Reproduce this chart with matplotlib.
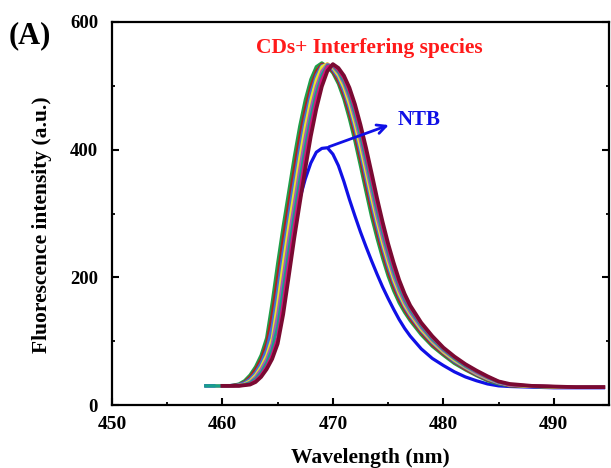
import numpy as np
import matplotlib
matplotlib.use("Agg")
import matplotlib.pyplot as plt
from matplotlib.ticker import MultipleLocator

nan = np.nan

wavelength = [458.5, 459, 459.5, 460, 460.5, 461, 461.5, 462, 462.5, 463, 463.5, 464, 464.5,
              465, 465.5, 466, 466.5, 467, 467.5, 468, 468.5, 469, 469.5, 470, 470.5, 471,
              471.5, 472, 472.5, 473, 473.5, 474, 474.5, 475, 475.5, 476, 476.5, 477, 478,
              479, 480, 481, 482, 483, 484, 485, 486, 488, 490, 492, 494.5]

species_green = [30,30,30,30,30, 31,33,38,47,60,78,105,160,222,280,334,388,437,478,510,530,536, 530,520,503,479,448,413,374,334,295,261,230,202,179,160,145,132, 110,92,78,65,55,46,38,33,30, 29,28,28,28]
species_red = [nan,nan,nan,30,30, 31,32,36,44,56,72,96,142,201,261,316,370,421,464,499,523,534, 532,522,507,485,456,422,384,344,305,270,238,209,185,165,149,135, 113,94,80,67,56,47,39,34,30, 29,28,28,28]
species_blue = [30,30,30,30,30, 30,32,35,41,51,66,87,123,181,241,298,352,404,451,489,517,532, 533,525,512,491,464,431,394,354,315,278,246,216,191,170,153,139, 116,97,82,68,58,48,40,34,31, 29,28,28,28]
species_yellow = [nan,nan,30,30,30, 30,31,33,38,47,60,78,105,160,222,280,334,388,437,478,510,530, 535,528,516,497,471,439,403,364,324,287,253,223,196,174,156,142, 118,99,83,70,59,49,41,35,31, 29,28,28,28]
species_purple = [nan,nan,nan,30,30, 30,31,32,36,44,56,72,96,142,201,261,316,370,421,464,499,523, 534,530,520,503,479,448,413,374,334,295,261,230,202,179,160,145, 121,101,85,72,60,50,42,35,31, 30,29,28,28]
species_teal = [30,30,30,30,30, 30,30,32,35,41,51,66,87,123,181,241,298,352,404,451,489,517, 532,532,522,507,485,456,422,384,344,305,270,238,209,185,165,149, 124,103,87,73,61,52,43,36,32, 30,29,28,28]
species_magenta = [nan,nan,nan,30,30, 30,30,31,33,38,47,60,78,105,160,222,280,334,388,437,478,510, 530,533,525,512,491,464,431,394,354,315,278,246,216,191,170,153, 127,106,89,75,63,53,44,37,32, 30,29,28,28]
species_maroon = [nan,nan,nan,30,30, 30,30,31,32,36,44,56,72,96,142,201,261,316,370,421,464,499, 523,534,528,516,497,471,439,403,364,324,287,253,223,196,174,156, 129,108,90,76,64,54,45,37,33, 30,29,28,28]
ntb = [30,30,30,30,30, 31,32,35,41,50,62,82,115,158,202,243,285,323,354,379,396,402, 403,393,375,350,322,296,271,248,226,205,185,167,150,134,120,108, 88,73,62,52,44,38,33,30,29, 28,27,27,27]

interfering = [species_green, species_red, species_blue, species_yellow,
               species_purple, species_teal, species_magenta, species_maroon]
colors = ["#1e9e4a", "#b3201c", "#3d70d6", "#e8e82a", "#a35db8", "#17a08c", "#d4147c", "#7a0a32"]
widths = [2.3, 2.1, 2.1, 2.1, 2.1, 2.1, 2.2, 2.7]

x_ticks = [450, 460, 470, 480, 490]
y_ticks = [0, 200, 400, 600]

serif = ["Liberation Serif", "DejaVu Serif"]
plt.rcParams["font.family"] = serif
plt.rcParams["font.weight"] = "bold"

fig = plt.figure(figsize=(6.11, 4.68), dpi=100)
ax = fig.add_axes([0.1833, 0.1346, 0.8134, 0.8184])

ax.plot(wavelength, ntb, color="#1010e6", lw=2.3, zorder=2, solid_joinstyle="round")
for ys, c, w in zip(interfering, colors, widths):
    ax.plot(wavelength, ys, color=c, lw=w, zorder=3, solid_joinstyle="round")

ax.set_xlim(450, 495)
ax.set_ylim(0, 600)
ax.set_xticks(x_ticks)
ax.set_yticks(y_ticks)
ax.xaxis.set_minor_locator(MultipleLocator(5))
ax.yaxis.set_minor_locator(MultipleLocator(100))
ax.tick_params(axis="both", which="major", direction="in", length=5, width=1.5,
               top=False, right=True)
ax.tick_params(axis="both", which="minor", direction="in", length=2.5, width=1.3,
               top=False, right=True)
ax.tick_params(axis="x", which="major", pad=8, labelsize=14)
ax.tick_params(axis="y", which="major", pad=10, labelsize=13.5)
for lab in ax.get_xticklabels() + ax.get_yticklabels():
    lab.set_fontweight("bold")
for sp in ax.spines.values():
    sp.set_linewidth(1.6)

ax.set_xlabel("Wavelength (nm)", fontsize=15.5, fontweight="bold")
ax.set_ylabel("Fluorescence intensity (a.u.)", fontsize=15.5, fontweight="bold")
ax.xaxis.set_label_coords(0.52, -0.138)
ax.yaxis.set_label_coords(-0.141, 0.47)
ax.xaxis.label.set_va("center")
ax.yaxis.label.set_va("center")

ax.text(473.3, 560, "CDs+ Interfering species", color="#ff1a1a", fontsize=15.5,
        fontweight="bold", ha="center", va="center")
ax.annotate("", xy=(475.3, 440), xytext=(469.4, 403),
            arrowprops=dict(arrowstyle="->", color="#1010e6", lw=2.0, mutation_scale=16))
ax.text(477.8, 447, "NTB", color="#1010e6", fontsize=15, fontweight="bold",
        ha="center", va="center")

fig.text(0.049, 0.923, "(A)", fontsize=22, fontweight="bold", ha="center", va="center")

fig.savefig("out.png", dpi=100)
